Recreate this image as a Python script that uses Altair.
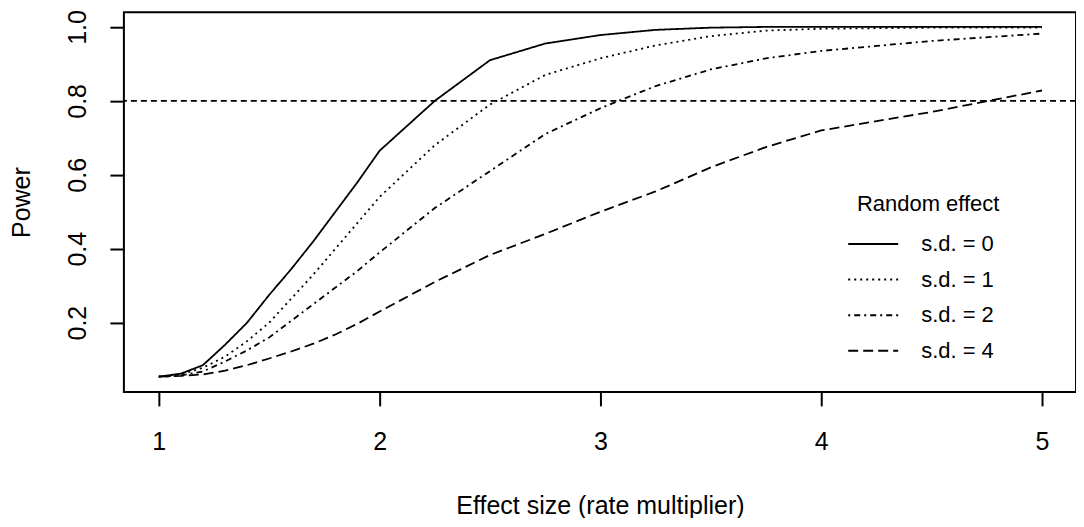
import altair as alt
import pandas as pd

# ---- data ----
effect = [1, 1.1, 1.2, 1.3, 1.4, 1.5, 1.6, 1.7, 1.8, 1.9, 2, 2.25, 2.5, 2.75, 3, 3.25, 3.5, 3.75, 4, 4.5, 5]
power_sd0 = [0.054, 0.062, 0.085, 0.14, 0.20, 0.275, 0.345, 0.42, 0.50, 0.58, 0.665, 0.80, 0.91, 0.955, 0.978, 0.992, 0.998, 1.0, 1.0, 1.0, 1.0]
power_sd1 = [0.054, 0.060, 0.078, 0.108, 0.15, 0.20, 0.265, 0.33, 0.40, 0.47, 0.54, 0.68, 0.79, 0.87, 0.915, 0.95, 0.975, 0.99, 0.995, 0.998, 0.998]
power_sd2 = [0.054, 0.057, 0.068, 0.095, 0.125, 0.16, 0.205, 0.25, 0.295, 0.34, 0.39, 0.51, 0.61, 0.71, 0.78, 0.84, 0.885, 0.915, 0.935, 0.962, 0.982]
power_sd4 = [0.054, 0.056, 0.06, 0.07, 0.085, 0.103, 0.122, 0.143, 0.168, 0.197, 0.23, 0.31, 0.383, 0.44, 0.50, 0.555, 0.62, 0.675, 0.72, 0.77, 0.828]
series_labels = ["s.d. = 0", "s.d. = 1", "s.d. = 2", "s.d. = 4"]
x_ticks = [1, 2, 3, 4, 5]
y_ticks = [0.2, 0.4, 0.6, 0.8, 1.0]
target_power = 0.8

rows = []
for lab, vals in zip(series_labels, [power_sd0, power_sd1, power_sd2, power_sd4]):
    for xv, yv in zip(effect, vals):
        rows.append({"effect": xv, "power": yv, "series": lab})
df = pd.DataFrame(rows)

FONT = "Liberation Sans"
dashes = [[1, 0], [2, 4], [2, 4, 6, 4], [10, 5]]

x_enc = alt.X(
    "effect:Q",
    scale=alt.Scale(domain=[0.842, 5.154], nice=False, zero=False),
    axis=alt.Axis(
        values=x_ticks, format="d", title="Effect size (rate multiplier)",
        labelPadding=24, titleY=122, titleBaseline="alphabetic",
    ),
)
y_enc = alt.Y(
    "power:Q",
    scale=alt.Scale(domain=[0.0127, 1.0397], nice=False, zero=False),
    axis=alt.Axis(
        values=y_ticks, format=".1f", title="Power",
        labelAngle=270, labelAlign="center", labelBaseline="bottom", labelPadding=19,
        titleAngle=270, titleX=-94, titleY=190, titleBaseline="alphabetic", titleAlign="center",
    ),
)

lines = alt.Chart(df).mark_line(color="black", strokeWidth=1.8).encode(
    x=x_enc,
    y=y_enc,
    strokeDash=alt.StrokeDash(
        "series:N",
        scale=alt.Scale(domain=series_labels, range=dashes),
        sort=series_labels,
        legend=alt.Legend(
            title="Random effect", orient="none", legendX=734, legendY=182,
            titleFont=FONT, titleFontSize=22, titleFontWeight="normal", titleColor="black",
            titleAnchor="middle", titlePadding=17,
            labelFont=FONT, labelFontSize=22, labelColor="black", labelOffset=37,
            symbolType="M-5,0H5", symbolSize=100, symbolStrokeWidth=2, symbolStrokeColor="black",
            padding=0, rowPadding=13.6,
        ),
    ),
)

ref = alt.Chart(pd.DataFrame({"p": [target_power]})).mark_rule(
    color="black", strokeWidth=1.8, strokeDash=[6, 4]
).encode(y=alt.Y("p:Q"))

chart = alt.layer(lines, ref).properties(
    width=953, height=380,
    background="white",
    autosize=alt.AutoSizeParams(type="none"),
    padding={"left": 116, "top": 4, "right": 0, "bottom": 126},
).configure_view(
    stroke="black", strokeWidth=2
).configure_axis(
    domain=False, grid=False, tickColor="black", tickWidth=2, tickSize=14,
    labelFont=FONT, labelFontSize=25, labelColor="black",
    titleFont=FONT, titleFontSize=25, titleFontWeight="normal", titleColor="black",
    labelOverlap=False, labelFlush=False,
)

chart.save("out.html", embed_options={"renderer": "svg", "actions": False})
